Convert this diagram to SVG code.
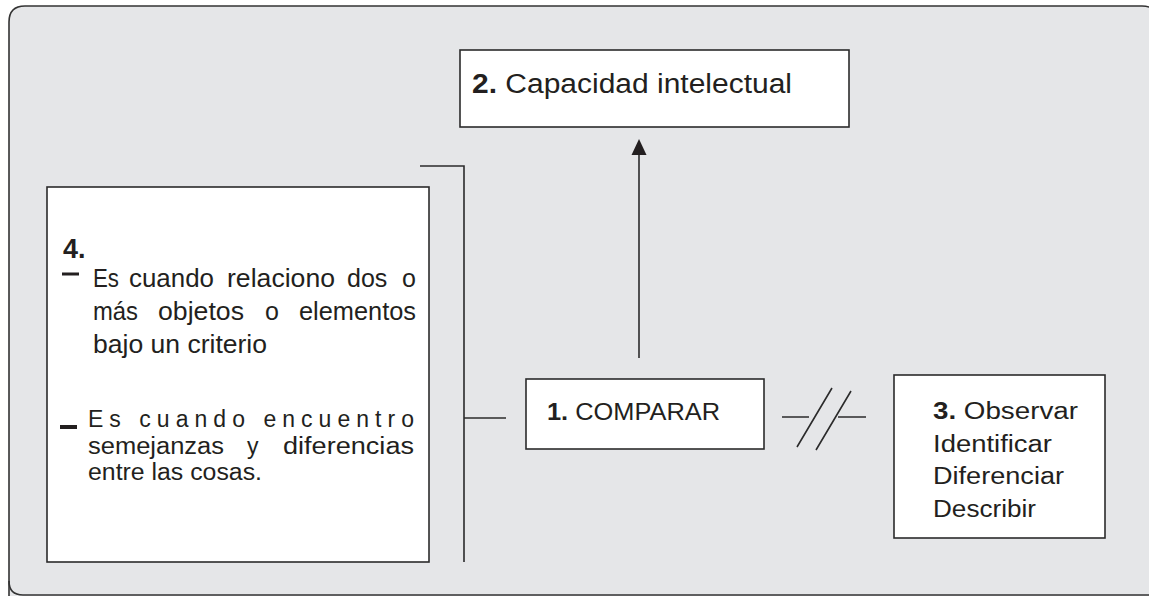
<svg xmlns="http://www.w3.org/2000/svg" width="1149" height="596" viewBox="0 0 1149 596">
<defs>
<style>
.box{fill:#ffffff;stroke:#2b2b2b;stroke-width:1.6}
.ln{fill:none;stroke:#2b2b2b;stroke-width:1.6}
text{font-family:"Liberation Sans",Arial,sans-serif;fill:#231f20}
.b{font-weight:bold}
</style>
</defs>
<path d="M9,600 L9,22 Q9,6 25,6 L1142,6 Q1158,6 1158,22 L1158,600" fill="#e5e6e8" stroke="#333333" stroke-width="1.6"/>
<path d="M9,581 Q9,595 23,595 L1149,595" fill="none" stroke="#333333" stroke-width="1.6"/>
<g id="connectors">
<path class="ln" d="M420,166 L464,166 L464,562"/>
<path class="ln" d="M464,418 L506,418"/>
<path class="ln" d="M639,358 L639,154"/>
<path d="M639,139 L646.5,155 L631.5,155 z" fill="#231f20"/>
<path class="ln" d="M782,417 L809,417 M838,417 L866,417 M797,447 L832,388 M816,450 L851,391"/>
</g>
<g id="node2">
<rect class="box" x="460" y="50" width="389" height="77"/>
<text x="472" y="93" font-size="27" textLength="320" lengthAdjust="spacingAndGlyphs"><tspan class="b">2.</tspan> Capacidad intelectual</text>
</g>
<g id="node1">
<rect class="box" x="526" y="379" width="238" height="70"/>
<text x="547" y="420" font-size="23" textLength="173" lengthAdjust="spacingAndGlyphs"><tspan class="b">1.</tspan> COMPARAR</text>
</g>
<g id="node3">
<rect class="box" x="894" y="375" width="211" height="163"/>
<text x="933" y="419" font-size="23" textLength="145" lengthAdjust="spacingAndGlyphs"><tspan class="b">3.</tspan> Observar</text>
<text x="933" y="452" font-size="23" textLength="119" lengthAdjust="spacingAndGlyphs">Identificar</text>
<text x="933" y="484" font-size="23" textLength="131" lengthAdjust="spacingAndGlyphs">Diferenciar</text>
<text x="933" y="517" font-size="23" textLength="103" lengthAdjust="spacingAndGlyphs">Describir</text>
</g>
<g id="node4">
<rect class="box" x="47" y="187" width="382" height="375"/>
<text class="b" x="63" y="258" font-size="27">4.</text>
<rect x="62" y="272.5" width="17" height="3" fill="#231f20"/>
<text y="287" font-size="25"><tspan x="93" textLength="26" lengthAdjust="spacingAndGlyphs">Es</tspan> <tspan x="129" textLength="85" lengthAdjust="spacingAndGlyphs">cuando</tspan> <tspan x="227" textLength="108" lengthAdjust="spacingAndGlyphs">relaciono</tspan> <tspan x="347">dos</tspan> <tspan x="402">o</tspan></text>
<text y="320" font-size="25"><tspan x="93" textLength="45" lengthAdjust="spacingAndGlyphs">más</tspan> <tspan x="158" textLength="86" lengthAdjust="spacingAndGlyphs">objetos</tspan> <tspan x="265">o</tspan> <tspan x="299" textLength="117" lengthAdjust="spacingAndGlyphs">elementos</tspan></text>
<text x="93" y="353" font-size="25" textLength="174" lengthAdjust="spacingAndGlyphs">bajo un criterio</text>
<rect x="60" y="425" width="17" height="4" fill="#231f20"/>
<text x="88" y="427" font-size="23" textLength="326" lengthAdjust="spacing">Es cuando encuentro</text>
<text y="454" font-size="23"><tspan x="88" textLength="136" lengthAdjust="spacingAndGlyphs">semejanzas</tspan> <tspan x="247">y</tspan> <tspan x="283" textLength="131" lengthAdjust="spacingAndGlyphs">diferencias</tspan></text>
<text x="88" y="480" font-size="23" textLength="174" lengthAdjust="spacingAndGlyphs">entre las cosas.</text>
</g>
</svg>
